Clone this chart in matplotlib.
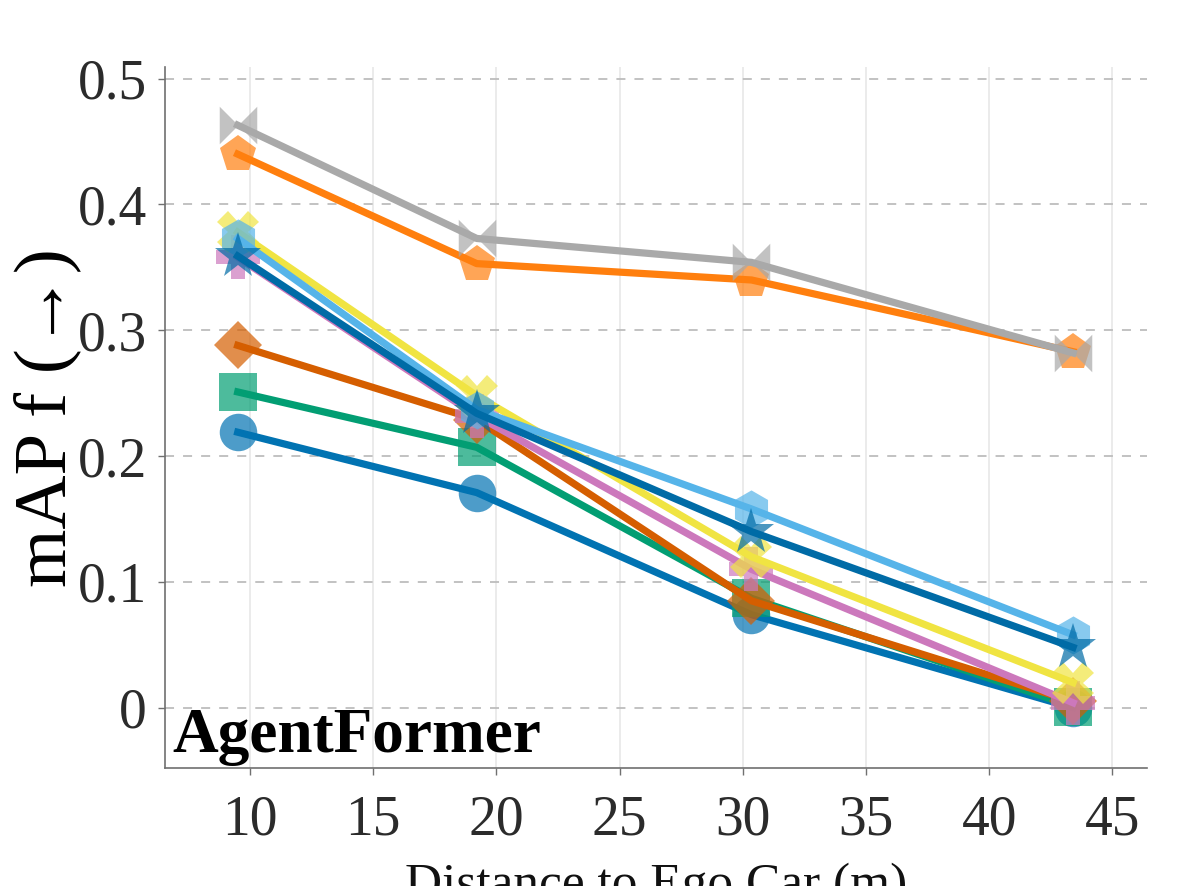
import matplotlib
matplotlib.use("Agg")
import matplotlib.pyplot as plt
from matplotlib.path import Path

distance = [9.5, 19.2, 30.35, 43.4]

series_names = ["circle", "square", "diamond", "plus", "xmark", "hexagon", "star", "pentagon", "bowtie"]
values = {
    "circle":   [0.219, 0.171, 0.074, 0.000],
    "square":   [0.251, 0.207, 0.087, 0.001],
    "diamond":  [0.288, 0.229, 0.085, 0.005],
    "plus":     [0.358, 0.232, 0.110, 0.004],
    "xmark":    [0.378, 0.248, 0.120, 0.020],
    "hexagon":  [0.373, 0.237, 0.158, 0.058],
    "star":     [0.359, 0.234, 0.140, 0.048],
    "pentagon": [0.440, 0.353, 0.340, 0.283],
    "bowtie":   [0.463, 0.373, 0.354, 0.282],
}

xticks = [10, 15, 20, 25, 30, 35, 40, 45]
yticks = [0.0, 0.1, 0.2, 0.3, 0.4, 0.5]
ytick_labels = ["0", "0.1", "0.2", "0.3", "0.4", "0.5"]

bowtie = Path([(-1, -1), (-1, 1), (1, -1), (1, 1), (-1, -1)],
              [Path.MOVETO, Path.LINETO, Path.LINETO, Path.LINETO, Path.CLOSEPOLY])

styles = {
    "circle":   dict(color="#0173B2", marker="o", ms=27),
    "square":   dict(color="#029E73", marker="s", ms=27),
    "diamond":  dict(color="#D55E00", marker="D", ms=24.5),
    "plus":     dict(color="#CC78BC", marker="P", ms=31),
    "xmark":    dict(color="#F0E442", marker="X", ms=30),
    "hexagon":  dict(color="#56B4E9", marker="h", ms=27.5),
    "star":     dict(color="#006BA6", marker="*", ms=35),
    "pentagon": dict(color="#FF7F0E", marker="p", ms=28),
    "bowtie":   dict(color="#A9A9A9", marker=bowtie, ms=27),
}

serif = ["Liberation Serif", "DejaVu Serif"]
plt.rcParams["font.family"] = serif

fig = plt.figure(figsize=(11.96, 8.86), dpi=100)
ax = fig.add_axes([0.138, 0.133, 0.821, 0.791])

for i, name in enumerate(series_names):
    st = styles[name]
    col = matplotlib.colors.to_rgba(st["color"])
    ax.plot(distance, values[name], color=st["color"], lw=5.2,
            marker=st["marker"], markersize=st["ms"],
            markerfacecolor=(col[0], col[1], col[2], 0.7),
            markeredgewidth=0, zorder=3 + i)

ax.set_xlim(6.55, 46.4)
ax.set_ylim(-0.048, 0.509)
ax.set_xticks(xticks)
ax.set_yticks(yticks)
ax.set_yticklabels(ytick_labels)

ax.grid(axis="y", linestyle=(0, (5, 5)), color="#bdbdbd", lw=1.3, zorder=0)
ax.grid(axis="x", linestyle="-", color="#e8e8e8", lw=1.2, zorder=0)

for s in ["top", "right"]:
    ax.spines[s].set_visible(False)
for s in ["left", "bottom"]:
    ax.spines[s].set_color("#707070")
    ax.spines[s].set_linewidth(1.2)

ax.tick_params(axis="both", which="major", labelsize=40, colors="#707070",
               labelcolor="#2b2b2b", length=5, width=1)
ax.tick_params(axis="x", pad=14)
ax.tick_params(axis="y", pad=8)

ax.set_ylabel("mAP f (\u2192)", fontsize=54, color="black")
ax.yaxis.set_label_coords(-0.085, 0.5)
ax.set_xlabel("Distance to Ego Car (m)", fontsize=37, color="#111111")
ax.xaxis.set_label_coords(0.5, -0.135)

ax.text(0.007, 0.023, "AgentFormer", transform=ax.transAxes,
        fontsize=45.5, fontweight="bold", family=serif,
        ha="left", va="baseline", color="black", zorder=20)

fig.savefig("out.png", dpi=100)
